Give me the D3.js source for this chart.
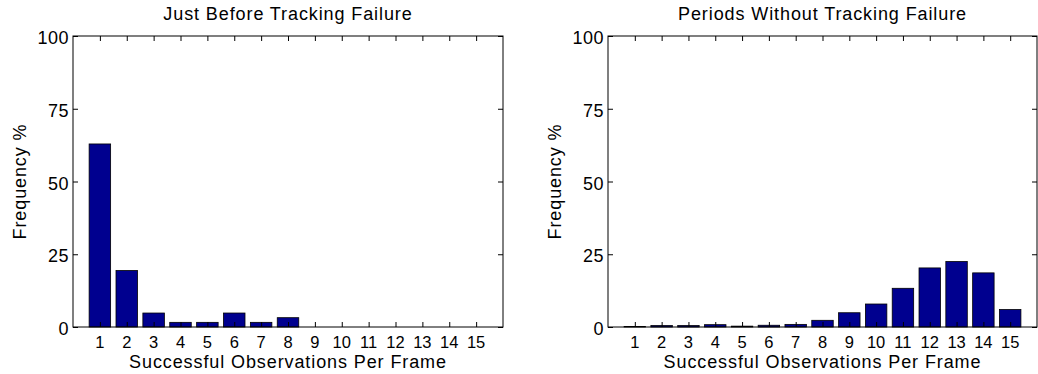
<!DOCTYPE html>
<html lang="en">
<head>
    <meta charset="UTF-8">
    <title>Successful Observations Per Frame</title>
    <script src="https://cdn.jsdelivr.net/npm/d3@7"></script>
    <style>
        body {
            margin: 0;
            background-color: #fff;
        }
        svg {
            display: block;
            font-family: 'Liberation Sans', Arial, Helvetica, sans-serif;
        }
        .xtick-label {
            font-size: 16.5px;
            fill: #000;
        }
        .ytick-label {
            font-size: 18px;
            letter-spacing: 0.5px;
            fill: #000;
        }
        .axis-label, .title {
            font-size: 18px;
            letter-spacing: 0.9px;
            fill: #000;
        }
    </style>
</head>
<body>
    <svg></svg>

    <script>
        const categories = [1, 2, 3, 4, 5, 6, 7, 8, 9, 10, 11, 12, 13, 14, 15];
        const yTicks = [0, 25, 50, 75, 100];

        // percentages
        const beforeFailure = [62.9, 19.4, 4.8, 1.6, 1.6, 4.8, 1.6, 3.2, 0, 0, 0, 0, 0, 0, 0];
        const withoutFailure = [0.2, 0.5, 0.5, 0.8, 0.3, 0.6, 0.9, 2.3, 4.9, 7.9, 13.3, 20.3, 22.5, 18.6, 6.0];

        const titles = ["Just Before Tracking Failure", "Periods Without Tracking Failure"];
        const xLabel = "Successful Observations Per Frame";
        const yLabel = "Frequency %";

        const width = 1038;
        const height = 374;
        const barColor = "#00008f";

        const svg = d3.select("svg")
            .attr("width", width)
            .attr("height", height);

        const panels = [
            { left: 73, right: 503, values: beforeFailure, title: titles[0], yLabelX: 26 },
            { left: 608, right: 1037, values: withoutFailure, title: titles[1], yLabelX: 561 }
        ];
        const plotTop = 36;
        const plotBottom = 327;

        panels.forEach(p => {
            const g = svg.append("g");

            const x = d3.scaleLinear().domain([0, 16]).range([p.left, p.right]);
            const y = d3.scaleLinear().domain([0, 100]).range([plotBottom, plotTop]);
            const step = x(1) - x(0);
            const barW = step * 0.8;

            // bars
            g.selectAll(".bar")
                .data(p.values)
                .enter().append("rect")
                .attr("class", "bar")
                .attr("x", (d, i) => x(categories[i]) - barW / 2)
                .attr("width", barW)
                .attr("y", d => y(d))
                .attr("height", d => y(0) - y(d))
                .attr("fill", barColor)
                .attr("stroke", "#000")
                .attr("stroke-width", 0.8);

            // axes, ticks pointing inwards like matlab
            const bottomAxis = d3.axisBottom(x).tickValues(categories).tickSize(-5).tickFormat("");
            const topAxis = d3.axisTop(x).tickValues(categories).tickSize(-5).tickFormat("");
            const leftAxis = d3.axisLeft(y).tickValues(yTicks).tickSize(-5).tickFormat("");
            const rightAxis = d3.axisRight(y).tickValues(yTicks).tickSize(-5).tickFormat("");

            g.append("g").attr("transform", `translate(0,${plotBottom})`).call(bottomAxis);
            g.append("g").attr("transform", `translate(0,${plotTop})`).call(topAxis);
            g.append("g").attr("transform", `translate(${p.left},0)`).call(leftAxis);
            g.append("g").attr("transform", `translate(${p.right},0)`).call(rightAxis);
            g.selectAll(".domain").remove();
            g.selectAll(".tick line").attr("stroke", "#000").attr("stroke-width", 1);

            g.append("rect")
                .attr("x", p.left)
                .attr("y", plotTop)
                .attr("width", p.right - p.left)
                .attr("height", plotBottom - plotTop)
                .attr("fill", "none")
                .attr("stroke", "#000")
                .attr("stroke-width", 1);

            // tick labels
            g.selectAll(".xtl")
                .data(categories)
                .enter().append("text")
                .attr("class", "xtick-label")
                .attr("x", d => x(d))
                .attr("y", 348)
                .attr("text-anchor", "middle")
                .text(d => d);

            g.selectAll(".ytl")
                .data(yTicks)
                .enter().append("text")
                .attr("class", "ytick-label")
                .attr("x", p.left - 4)
                .attr("y", d => y(d) + 8)
                .attr("text-anchor", "end")
                .text(d => d);

            // labels and title
            g.append("text")
                .attr("class", "axis-label")
                .attr("x", (p.left + p.right) / 2)
                .attr("y", 367.5)
                .attr("text-anchor", "middle")
                .text(xLabel);

            g.append("text")
                .attr("class", "axis-label")
                .attr("transform", `translate(${p.yLabelX},${(plotTop + plotBottom) / 2}) rotate(-90)`)
                .attr("text-anchor", "middle")
                .text(yLabel);

            g.append("text")
                .attr("class", "title")
                .attr("x", (p.left + p.right) / 2)
                .attr("y", 20)
                .attr("text-anchor", "middle")
                .text(p.title);
        });
    </script>
</body>
</html>
